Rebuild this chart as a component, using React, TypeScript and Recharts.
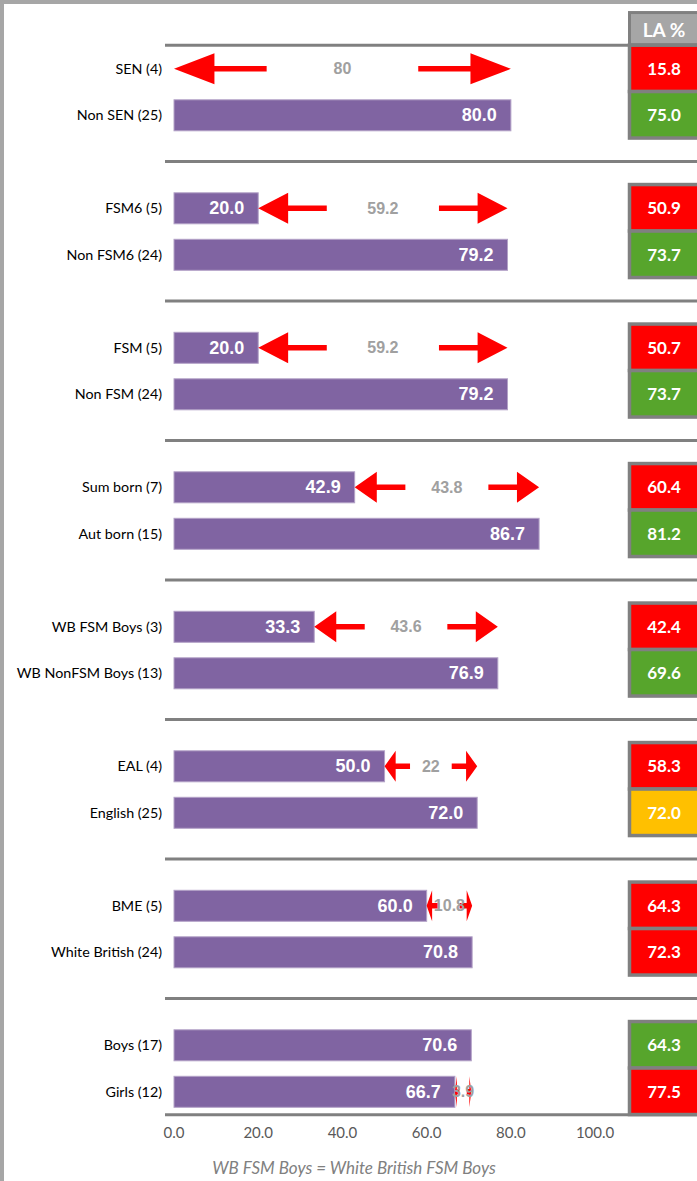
import React from 'react';
import { BarChart, Bar, XAxis, YAxis, ReferenceLine } from 'recharts';

const categories = [
  'SEN (4)', 'Non SEN (25)',
  'FSM6 (5)', 'Non FSM6 (24)',
  'FSM (5)', 'Non FSM (24)',
  'Sum born (7)', 'Aut born (15)',
  'WB FSM Boys (3)', 'WB NonFSM Boys (13)',
  'EAL (4)', 'English (25)',
  'BME (5)', 'White British (24)',
  'Boys (17)', 'Girls (12)',
];
const schoolValues = [0, 80.0, 20.0, 79.2, 20.0, 79.2, 42.9, 86.7, 33.3, 76.9, 50.0, 72.0, 60.0, 70.8, 70.6, 66.7];
const laValues = [15.8, 75.0, 50.9, 73.7, 50.7, 73.7, 60.4, 81.2, 42.4, 69.6, 58.3, 72.0, 64.3, 72.3, 64.3, 77.5];
const xTicks = [0, 20, 40, 60, 80, 100];
const laHeader = 'LA %';
const footnote = 'WB FSM Boys = White British FSM Boys';

// layout / style constants
const W = 697;
const H = 1181;
const PLOT_TOP = 45.3;
const PLOT_BOTTOM = 1114.8;
const X_AXIS_H = 30;
const Y_AXIS_W = 165;
const X_MIN = -2.14;
const X_MAX = 124.2;
const LA_X = 629.5;
const LA_TEXT_X = 664;
const GREY_LINE = '#808080';
const PURPLE = '#8064A2';
const RED = '#FF0000';
const GREEN = '#57A52C';
const AMBER = '#FFC000';

type Row = {
  name: string;
  value?: number;
  la?: number;
  gap?: [number, number];
};

const data: Row[] = [];
const sepNames: string[] = [];
for (let i = 0; i < categories.length; i += 2) {
  if (i > 0) {
    const s = `sep${i / 2}`;
    sepNames.push(s);
    data.push({ name: s });
  }
  const a = schoolValues[i];
  const b = schoolValues[i + 1];
  const lo = Math.min(a, b);
  const hi = Math.max(a, b);
  data.push({ name: categories[i], value: a, la: laValues[i], gap: a <= b ? [lo, hi] : undefined });
  data.push({ name: categories[i + 1], value: b, la: laValues[i + 1], gap: a > b ? [lo, hi] : undefined });
}

const BAND = (PLOT_BOTTOM - PLOT_TOP) / data.length;

const MainBar = (props: any) => {
  const { x, y, width, height, payload } = props;
  if (!payload || payload.value == null || !isFinite(x)) return <g />;
  return (
    <g>
      {width > 0 && (
        <rect x={x} y={y} width={width} height={height} fill={PURPLE} stroke="#b3a2c7" strokeWidth={1} />
      )}
      {payload.value > 0 && (
        <text
          x={x + width - 14}
          y={y + height / 2}
          textAnchor="end"
          dominantBaseline="central"
          fill="#ffffff"
          fontFamily="'Liberation Sans', Arial, sans-serif"
          fontWeight="bold"
          fontSize={18}
        >
          {payload.value.toFixed(1)}
        </text>
      )}
    </g>
  );
};

const ArrowBar = (props: any) => {
  const { x, y, width, height, payload } = props;
  if (!payload || !payload.gap || !isFinite(x) || !isFinite(width)) return <g />;
  const cy = y + height / 2;
  const head = width * 0.12;
  const shaft = width * 0.155;
  const hh = height / 2;
  const th = 2.8;
  const xr = x + width;
  const left = [
    [x, cy], [x + head, cy - hh], [x + head, cy - th], [x + head + shaft, cy - th],
    [x + head + shaft, cy + th], [x + head, cy + th], [x + head, cy + hh],
  ].map((p) => p.join(',')).join(' ');
  const right = [
    [xr, cy], [xr - head, cy - hh], [xr - head, cy - th], [xr - head - shaft, cy - th],
    [xr - head - shaft, cy + th], [xr - head, cy + th], [xr - head, cy + hh],
  ].map((p) => p.join(',')).join(' ');
  const gap = +(payload.gap[1] - payload.gap[0]).toFixed(1);
  return (
    <g>
      <polygon points={left} fill={RED} />
      <polygon points={right} fill={RED} />
      <text
        x={x + width / 2}
        y={cy}
        textAnchor="middle"
        dominantBaseline="central"
        fill="#a0a0a0"
        fontFamily="'Liberation Sans', Arial, sans-serif"
        fontWeight="bold"
        fontSize={16}
      >
        {String(gap)}
      </text>
    </g>
  );
};

const LaCell = (props: any) => {
  const { y, height, payload, index } = props;
  if (!payload || payload.la == null || payload.value == null) return <g />;
  const cy = y + height / 2;
  const top = cy - BAND / 2;
  const color = payload.value > payload.la ? GREEN : payload.value < payload.la ? RED : AMBER;
  return (
    <g>
      {index === 0 && (
        <g>
          <rect x={LA_X} y={top - 32.5} width={W - LA_X + 5} height={32.5} fill="#a6a6a6" stroke={GREY_LINE} strokeWidth={3} />
          <text
            x={LA_TEXT_X}
            y={top - 16}
            textAnchor="middle"
            dominantBaseline="central"
            fill="#ffffff"
            fontFamily="Lato, sans-serif"
            fontWeight="bold"
            fontSize={19}
          >
            {laHeader}
          </text>
        </g>
      )}
      <rect x={LA_X} y={top} width={W - LA_X + 5} height={BAND} fill={color} stroke={GREY_LINE} strokeWidth={3.5} />
      <text
        x={LA_TEXT_X}
        y={cy}
        textAnchor="middle"
        dominantBaseline="central"
        fill="#ffffff"
        fontFamily="Lato, sans-serif"
        fontWeight="bold"
        fontSize={17}
      >
        {payload.la.toFixed(1)}
      </text>
    </g>
  );
};

export default function App() {
  return (
    <div style={{ position: 'fixed', left: 0, top: 0, width: W, height: H, background: '#ffffff', overflow: 'hidden' }}>
      <BarChart
        layout="vertical"
        width={W}
        height={H}
        data={data}
        margin={{ top: PLOT_TOP, right: 0, bottom: H - PLOT_BOTTOM - X_AXIS_H, left: 0 }}
      >
        <XAxis
          type="number"
          domain={[X_MIN, X_MAX]}
          ticks={xTicks}
          allowDataOverflow
          interval={0}
          height={X_AXIS_H}
          tickSize={0}
          tickMargin={13}
          tickLine={false}
          axisLine={{ stroke: GREY_LINE, strokeWidth: 3 }}
          tick={{ fontFamily: 'Lato, sans-serif', fontSize: 15, fill: '#595959' }}
          tickFormatter={(v: number) => v.toFixed(1)}
        />
        <YAxis
          type="category"
          dataKey="name"
          width={Y_AXIS_W}
          interval={0}
          tickSize={0}
          tickMargin={3}
          tickLine={false}
          axisLine={false}
          tick={{ fontFamily: 'Lato, sans-serif', fontSize: 14.3, fill: '#000000' }}
          tickFormatter={(v: string) => (v.startsWith('sep') ? '' : v)}
        />
        <YAxis yAxisId="arrow" type="category" dataKey="name" hide />
        <YAxis yAxisId="la" type="category" dataKey="name" hide />
        <ReferenceLine y={categories[0]} position="start" stroke={GREY_LINE} strokeWidth={3} />
        {sepNames.map((s) => (
          <ReferenceLine key={s} y={s} stroke={GREY_LINE} strokeWidth={3} />
        ))}
        <Bar dataKey="value" barSize={31} isAnimationActive={false} shape={MainBar} />
        <Bar dataKey="gap" yAxisId="arrow" barSize={31} isAnimationActive={false} shape={ArrowBar} />
        <Bar dataKey="la" yAxisId="la" barSize={20} isAnimationActive={false} shape={LaCell} />
      </BarChart>
      <div style={{ position: 'absolute', left: 0, top: 0, width: W, height: 4, background: '#a6a6a6' }} />
      <div style={{ position: 'absolute', left: 0, top: 0, width: 4, height: H, background: '#a6a6a6' }} />
      <div
        style={{
          position: 'absolute',
          left: 154,
          width: 400,
          top: 1157,
          lineHeight: '22px',
          textAlign: 'center',
          fontFamily: 'Lato, sans-serif',
          fontStyle: 'italic',
          fontSize: 17,
          color: '#808080',
        }}
      >
        {footnote}
      </div>
    </div>
  );
}
